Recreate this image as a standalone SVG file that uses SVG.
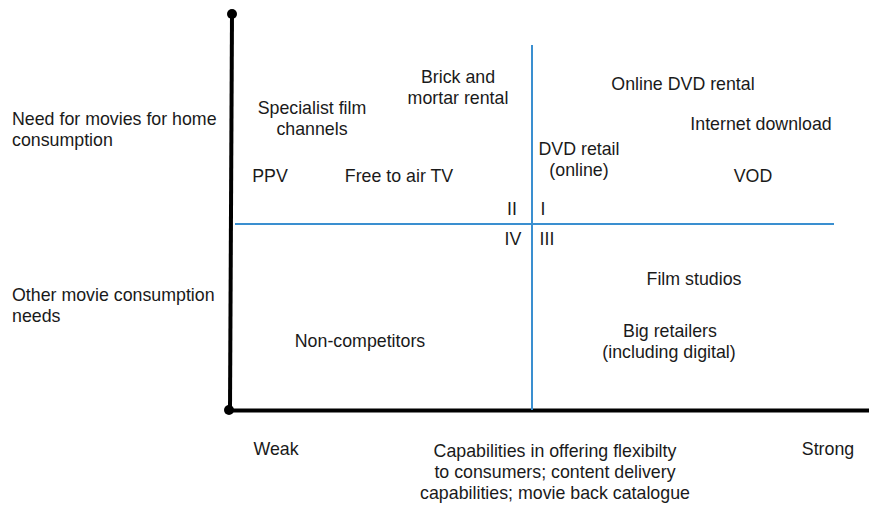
<svg xmlns="http://www.w3.org/2000/svg" width="869" height="506" viewBox="0 0 869 506">
<style>
text{font-family:"Liberation Sans",Arial,Helvetica,sans-serif;font-size:17.8px;fill:#1a1a1a}
.c{text-anchor:middle}
.axis{stroke:#000;stroke-width:4;fill:none}
.q{stroke:#3a8fd0;stroke-width:2;fill:none}
</style>
<rect width="869" height="506" fill="#fff"/>
<g id="connectors">
<line class="axis" x1="232" y1="14" x2="230" y2="410"/>
<line class="axis" x1="229" y1="410.5" x2="869" y2="410.5"/>
<circle cx="232" cy="14" r="5" fill="#000"/>
<circle cx="229" cy="410" r="5" fill="#000"/>
<line class="q" x1="532" y1="45" x2="532" y2="410"/>
<line class="q" x1="235" y1="224" x2="834" y2="224"/>
</g>
<g id="quadrants">
<text class="c" x="512" y="215">II</text>
<text class="c" x="543" y="215">I</text>
<text class="c" x="513" y="245">IV</text>
<text class="c" x="547" y="245">III</text>
</g>
<g id="y-labels">
<text x="12" y="125">Need for movies for home</text>
<text x="12" y="146">consumption</text>
<text x="12" y="301">Other movie consumption</text>
<text x="12" y="322">needs</text>
</g>
<g id="specialist"><text class="c" x="312" y="114">Specialist film</text><text class="c" x="312" y="135">channels</text></g>
<g id="brick"><text class="c" x="458" y="83">Brick and</text><text class="c" x="458" y="104">mortar rental</text></g>
<g id="online-dvd"><text class="c" x="683" y="90">Online DVD rental</text></g>
<g id="internet"><text class="c" x="761" y="130">Internet download</text></g>
<g id="dvd-retail"><text class="c" x="579" y="155">DVD retail</text><text class="c" x="579" y="176">(online)</text></g>
<g id="ppv"><text class="c" x="270" y="182">PPV</text></g>
<g id="fta"><text class="c" x="399" y="182">Free to air TV</text></g>
<g id="vod"><text class="c" x="753" y="182">VOD</text></g>
<g id="film-studios"><text class="c" x="694" y="285">Film studios</text></g>
<g id="big-retailers"><text class="c" x="670" y="337">Big retailers</text><text class="c" x="669" y="358">(including digital)</text></g>
<g id="non-competitors"><text class="c" x="360" y="347">Non-competitors</text></g>
<g id="x-labels">
<text class="c" x="276" y="455">Weak</text>
<text class="c" x="555" y="457">Capabilities in offering flexibilty</text>
<text class="c" x="555" y="478">to consumers; content delivery</text>
<text class="c" x="555" y="499">capabilities; movie back catalogue</text>
<text class="c" x="828" y="455">Strong</text>
</g>
</svg>
